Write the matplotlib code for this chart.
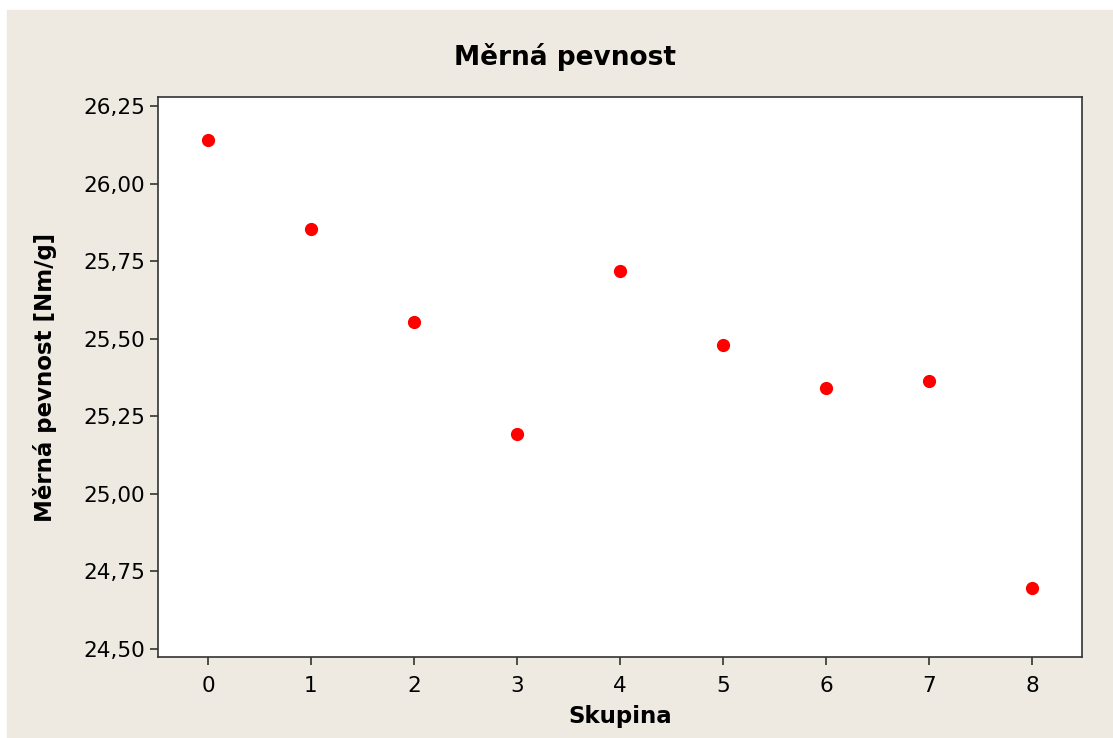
import matplotlib.pyplot as plt
from matplotlib.ticker import FuncFormatter

# skupiny a naměřené hodnoty
skupina = [0, 1, 2, 3, 4, 5, 6, 7, 8]
pevnost = [26.14, 25.855, 25.553, 25.193, 25.718, 25.48, 25.341, 25.364, 24.697]
y_ticks = [24.50, 24.75, 25.00, 25.25, 25.50, 25.75, 26.00, 26.25]

bg = "#eeeae1"

fig = plt.figure(figsize=(11.13, 7.38), dpi=100)
fig.patch.set_facecolor("white")
# béžové pozadí s bílým okrajem nahoře a vlevo
fig.patches.append(plt.Rectangle((7 / 1113, 0), 1, 1 - 10 / 738,
                                 transform=fig.transFigure, color=bg, zorder=-1))

ax = fig.add_axes([158 / 1113, 1 - 657 / 738, (1082 - 158) / 1113, (657 - 97) / 738])
ax.set_facecolor("white")
ax.plot(skupina, pevnost, "o", color="red", ms=8.5, mec="red")

ax.set_xlim(-0.485, 8.485)
ax.set_ylim(24.474, 26.279)
ax.set_xticks(skupina)
ax.set_yticks(y_ticks)
ax.yaxis.set_major_formatter(FuncFormatter(lambda v, p: f"{v:.2f}".replace(".", ",")))
ax.tick_params(direction="out", length=6, width=1.2, labelsize=15.5, color="#333333")
ax.tick_params(axis="x", pad=8)
for s in ax.spines.values():
    s.set_color("#333333")
    s.set_linewidth(1.2)

fig.text(565 / 1113, 1 - 57 / 738, "Měrná pevnost", fontsize=19, fontweight="bold",
         ha="center", va="center")
ax.set_xlabel("Skupina", fontsize=16.5, fontweight="bold", labelpad=6)
ax.set_ylabel("Měrná pevnost [Nm/g]", fontsize=16.5, fontweight="bold", labelpad=19)

fig.savefig("out.png", dpi=100, facecolor=fig.get_facecolor())
